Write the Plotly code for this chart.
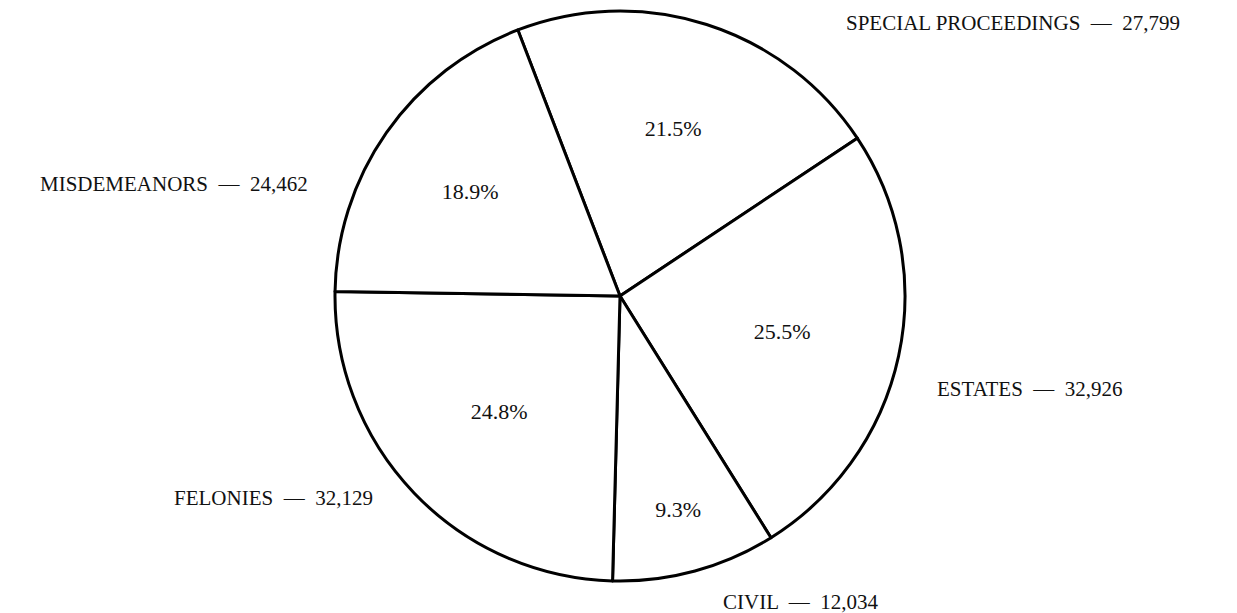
import plotly.graph_objects as go

categories = ["SPECIAL PROCEEDINGS", "ESTATES", "CIVIL", "FELONIES", "MISDEMEANORS"]
values = [27799, 32926, 12034, 32129, 24462]
value_labels = ["27,799", "32,926", "12,034", "32,129", "24,462"]
pct_labels = ["21.5%", "25.5%", "9.3%", "24.8%", "18.9%"]

W, H = 1237, 613
FONT = "Liberation Serif, Times New Roman, serif"

fig = go.Figure(go.Pie(
    labels=categories,
    values=values,
    text=pct_labels,
    textinfo="text",
    textposition="inside",
    insidetextorientation="horizontal",
    sort=False,
    direction="clockwise",
    rotation=-21,
    marker=dict(colors=["white"] * 5, line=dict(color="black", width=3)),
    textfont=dict(family=FONT, size=22, color="#111"),
    showlegend=False,
    hoverinfo="label+value+percent",
    domain=dict(x=[327 / W, 897 / W], y=[1 - 573 / H, 1 - 3 / H]),
))

# outside label anchor positions (pixels, converted to paper coords)
label_pos = {
    "SPECIAL PROCEEDINGS": (1005, 15),
    "ESTATES": (1022, 381),
    "CIVIL": (792, 594),
    "FELONIES": (265, 490),
    "MISDEMEANORS": (166, 176),
}
for cat, val in zip(categories, value_labels):
    px, py = label_pos[cat]
    fig.add_annotation(
        x=px / W, y=1 - py / H, xref="paper", yref="paper",
        text=f"{cat} \u00a0—\u00a0 {val}", showarrow=False,
        font=dict(family=FONT, size=21, color="#111"),
        xanchor="center", yanchor="middle", borderpad=0,
    )

fig.update_layout(
    width=W, height=H,
    margin=dict(l=0, r=0, t=0, b=0),
    paper_bgcolor="white", plot_bgcolor="white",
)

fig.write_html("out.html")
